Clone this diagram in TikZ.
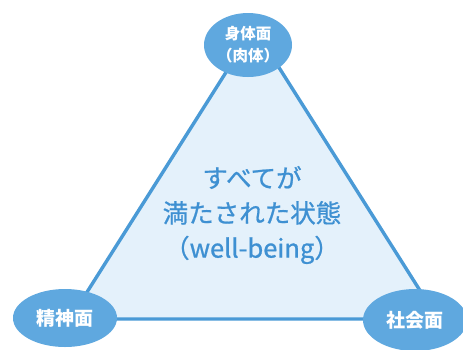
\documentclass[tikz,border=0pt]{standalone}
\usetikzlibrary{shapes.geometric}
\usepackage{fontspec}
\newfontfamily\cjk{Noto Sans CJK JP}
\newfontfamily\cjkm[FakeBold=0.8]{Noto Sans CJK JP}
\definecolor{triline}{HTML}{4A9AD6}
\definecolor{trifill}{HTML}{E4F1FB}
\definecolor{ellfill}{HTML}{5FA8DF}
\definecolor{txtblue}{HTML}{3E90D2}
\begin{document}
\begin{tikzpicture}[x=1pt,y=-1pt,
  face/.style={ellipse,fill=ellfill,text=white,font=\cjk\bfseries\fontsize{15.5}{22}\selectfont,align=center,inner sep=0pt},
  bigface/.style={face,font=\cjk\bfseries\fontsize{19}{22}\selectfont},
  centertext/.style={text=txtblue,font=\cjkm\fontsize{25.5}{35}\selectfont,align=center}]
\clip (0,0) rectangle (463,349);
\fill[white] (0,0) rectangle (463,349);
\coordinate (A) at (254,28);
\coordinate (L) at (70,319);
\coordinate (R) at (438,319);
\draw[triline,line width=3.4pt,fill=trifill,line join=round] (A) -- (L) -- (R) -- cycle;
\node[face,minimum width=88pt,minimum height=64pt] (body) at (248,45) {身体面\\（肉体）};
\node[bigface,minimum width=104pt,minimum height=58pt] (mind) at (65,318) {精神面};
\node[bigface,minimum width=104pt,minimum height=62pt] (soc) at (415,320) {社会面};
\node[centertext] (c) at (252,215) {すべてが\\満たされた状態\\（well-being）};
\end{tikzpicture}
\end{document}
